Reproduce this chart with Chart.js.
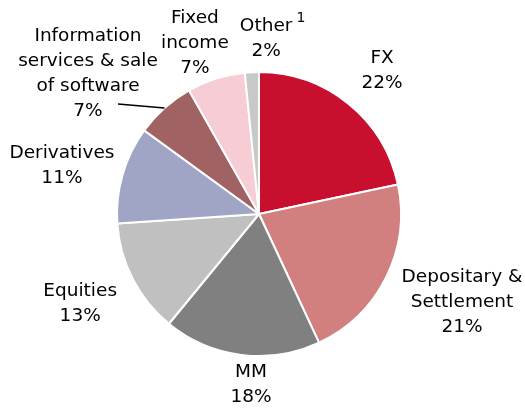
<!DOCTYPE html>
<html lang="en">
<head>
    <meta charset="UTF-8">
    <title>Revenue split</title>
    <script src="https://cdn.jsdelivr.net/npm/chart.js"></script>
    <style>
        body { margin: 0; background: #ffffff; }
        canvas { display: block; }
    </style>
</head>
<body>
    <canvas id="pieChart" width="525" height="408"></canvas>

    <script>
        // data (slice sizes, labels show the rounded share)
        const categories = ['FX', 'Depositary & Settlement', 'MM', 'Equities', 'Derivatives',
                            'Information services & sale of software', 'Fixed income', 'Other'];
        const shares = [21.7, 21.4, 17.9, 13.0, 11.1, 6.8, 6.6, 1.6];
        const shareLabels = ['22%', '21%', '18%', '13%', '11%', '7%', '7%', '2%'];
        const labelLines = [
            ['FX'],
            ['Depositary &', 'Settlement'],
            ['MM'],
            ['Equities'],
            ['Derivatives'],
            ['Information', 'services & sale', 'of software'],
            ['Fixed', 'income'],
            ['Other']
        ];
        const colors = ['#C8102E', '#D17F7F', '#808080', '#C0C0C0', '#A0A5C6',
                        '#A06262', '#F6CDD4', '#C8C8C8'];

        // label placement: angle shift (deg) from slice middle and distance as factor of radius
        const labelPos = [
            { da: 1.6, k: 1.331 },
            { da: -3.1, k: 1.558 },
            { da: -4.5, k: 1.202 },
            { da: 0.6, k: 1.409 },
            { da: -2.3, k: 1.429 },
            { da: -9.0, k: 1.556 },
            { da: -3.0, k: 1.282 },
            { da: 5.2, k: 1.237 }
        ];

        const FONT = '18.5px "DejaVu Sans", Verdana, sans-serif';
        const LINE_H = 25;

        const outsideLabels = {
            id: 'outsideLabels',
            afterDatasetsDraw(chart) {
                const c = chart.ctx;
                const meta = chart.getDatasetMeta(0);
                c.save();
                c.fillStyle = '#000000';
                c.font = FONT;
                c.textAlign = 'center';
                c.textBaseline = 'middle';
                meta.data.forEach((arc, i) => {
                    const midAngle = (arc.startAngle + arc.endAngle) / 2;
                    const a = midAngle + labelPos[i].da * Math.PI / 180;
                    const r = arc.outerRadius * labelPos[i].k;
                    const cx = arc.x + Math.cos(a) * r;
                    const cy = arc.y + Math.sin(a) * r;
                    const lines = labelLines[i].concat([shareLabels[i]]);
                    const y0 = cy - (lines.length - 1) * LINE_H / 2;
                    lines.forEach((t, j) => {
                        c.fillText(t, cx, y0 + j * LINE_H);
                    });
                    if (categories[i] === 'Other') {
                        // footnote mark
                        const w = c.measureText('Other').width;
                        c.font = '14px "DejaVu Sans", Verdana, sans-serif';
                        c.textAlign = 'left';
                        c.fillText('1', cx + w / 2 + 4, y0 - 8);
                        c.font = FONT;
                        c.textAlign = 'center';
                    }
                    if (categories[i].startsWith('Information')) {
                        // leader line from the label to the slice
                        const ex = arc.x + Math.cos(midAngle) * arc.outerRadius;
                        const ey = arc.y + Math.sin(midAngle) * arc.outerRadius;
                        c.strokeStyle = '#000000';
                        c.lineWidth = 1.5;
                        c.beginPath();
                        c.moveTo(cx + 30, cy + 30);
                        c.lineTo(ex, ey);
                        c.stroke();
                    }
                });
                c.restore();
            }
        };

        const ctx = document.getElementById('pieChart').getContext('2d');
        new Chart(ctx, {
            type: 'pie',
            data: {
                labels: categories,
                datasets: [{
                    data: shares,
                    backgroundColor: colors,
                    borderColor: '#ffffff',
                    borderWidth: 2
                }]
            },
            options: {
                responsive: false,
                animation: false,
                layout: { padding: { left: 116, right: 123, top: 71, bottom: 51 } },
                plugins: {
                    legend: { display: false },
                    tooltip: { enabled: false }
                }
            },
            plugins: [outsideLabels]
        });
    </script>
</body>
</html>
